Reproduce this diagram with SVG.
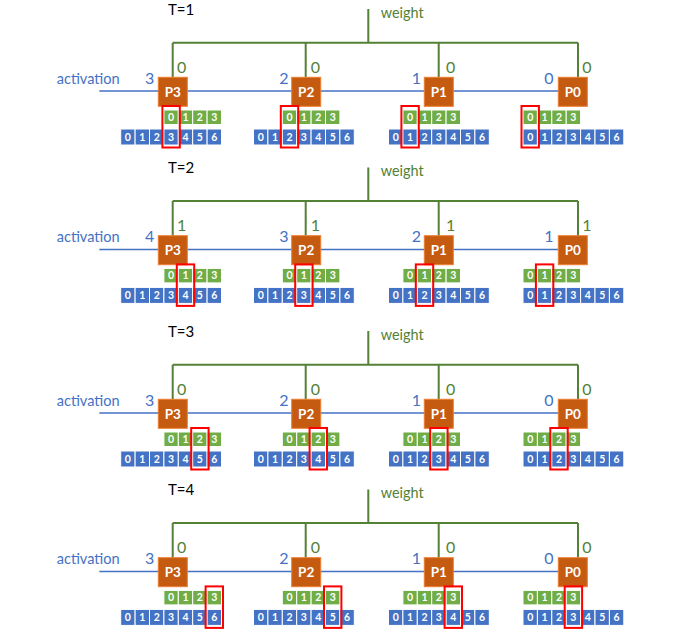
<svg xmlns="http://www.w3.org/2000/svg" xmlns:xlink="http://www.w3.org/1999/xlink" width="683" height="634" viewBox="0 0 683 634">
<style>
text{font-family:Lato,"Liberation Sans",sans-serif}
.tl{font-size:15px;fill:#000}
.act{font-size:16px;fill:#4472C4}
.wt{font-size:16px;fill:#538135}
.an{font-size:16px;fill:#4472C4}
.wn{font-size:16px;fill:#538135}
.gl{stroke:#538135;stroke-width:2;fill:none}
.bl{stroke:#4472C4;stroke-width:1.5;fill:none}
.box{fill:#C55A11;stroke:#ED7D31;stroke-width:1}
.pl{font-size:13.5px;font-weight:bold;fill:#fff;text-anchor:middle}
.gc{fill:#70AD47;stroke:#fff;stroke-width:1}
.bc{fill:#4472C4;stroke:#fff;stroke-width:1}
.cd{font-size:10.5px;font-weight:bold;fill:#fff;text-anchor:middle}
.red{fill:none;stroke:#F00;stroke-width:2}
</style>
<defs>
<g id="g4">
<rect class="gc" x="0" y="0" width="14.4" height="14.5"/><rect class="gc" x="14.4" y="0" width="14.4" height="14.5"/><rect class="gc" x="28.8" y="0" width="14.4" height="14.5"/><rect class="gc" x="43.2" y="0" width="14.4" height="14.5"/>
<text class="cd" x="7.2" y="11">0</text><text class="cd" x="21.6" y="11">1</text><text class="cd" x="36" y="11">2</text><text class="cd" x="50.4" y="11">3</text>
</g>
<g id="b7">
<rect class="bc" x="0" y="0" width="14.4" height="16"/><rect class="bc" x="14.4" y="0" width="14.4" height="16"/><rect class="bc" x="28.8" y="0" width="14.4" height="16"/><rect class="bc" x="43.2" y="0" width="14.4" height="16"/><rect class="bc" x="57.6" y="0" width="14.4" height="16"/><rect class="bc" x="72" y="0" width="14.4" height="16"/><rect class="bc" x="86.4" y="0" width="14.4" height="16"/>
<text class="cd" x="7.2" y="12">0</text><text class="cd" x="21.6" y="12">1</text><text class="cd" x="36" y="12">2</text><text class="cd" x="50.4" y="12">3</text><text class="cd" x="64.8" y="12">4</text><text class="cd" x="79.2" y="12">5</text><text class="cd" x="93.6" y="12">6</text>
</g>
</defs>

<!-- T=1 -->
<g id="sec1" transform="translate(0,0)">
<text class="tl" x="168" y="15">T=1</text>
<text class="wt" x="380.7" y="17.5" textLength="43" lengthAdjust="spacingAndGlyphs">weight</text>
<text class="act" x="56.7" y="83.5" textLength="63" lengthAdjust="spacingAndGlyphs">activation</text>
<g id="conn1">
<path class="gl" d="M368.3 9V42.7M172.7 42.7H578M172.7 42.7V77.3M305.7 42.7V77.3M438.7 42.7V77.3M578 42.7V77.3"/>
<path class="bl" d="M99.3 91H558.3"/>
</g>
<g id="t1-p3"><rect class="box" x="158.3" y="77.3" width="29" height="29"/><text class="pl" x="172.8" y="96.5">P3</text><text class="an" x="145" y="83.5">3</text><text class="wn" x="177" y="73">0</text><use xlink:href="#g4" x="163.9" y="110"/><use xlink:href="#b7" x="120.7" y="129"/><rect class="red" x="162.4" y="106" width="17.4" height="41.5"/></g>
<g id="t1-p2"><rect class="box" x="291.7" y="77.3" width="29" height="29"/><text class="pl" x="306.2" y="96.5">P2</text><text class="an" x="279.3" y="83.5">2</text><text class="wn" x="310.7" y="73">0</text><use xlink:href="#g4" x="282.3" y="110"/><use xlink:href="#b7" x="253.5" y="129"/><rect class="red" x="280.8" y="106" width="17.4" height="41.5"/></g>
<g id="t1-p1"><rect class="box" x="424.3" y="77.3" width="29" height="29"/><text class="pl" x="438.8" y="96.5">P1</text><text class="an" x="411.7" y="83.5">1</text><text class="wn" x="446" y="73">0</text><use xlink:href="#g4" x="402.9" y="110"/><use xlink:href="#b7" x="388.5" y="129"/><rect class="red" x="401.4" y="106" width="17.4" height="41.5"/></g>
<g id="t1-p0"><rect class="box" x="558.3" y="77.3" width="29" height="29"/><text class="pl" x="572.8" y="96.5">P0</text><text class="an" x="544.3" y="83.5">0</text><text class="wn" x="582.3" y="73">0</text><use xlink:href="#g4" x="523" y="110"/><use xlink:href="#b7" x="523" y="129"/><rect class="red" x="521.5" y="106" width="17.4" height="41.5"/></g>
</g>

<!-- T=2 -->
<g id="sec2" transform="translate(0,158.4)">
<text class="tl" x="168" y="15">T=2</text>
<text class="wt" x="380.7" y="17.5" textLength="43" lengthAdjust="spacingAndGlyphs">weight</text>
<text class="act" x="56.7" y="83.5" textLength="63" lengthAdjust="spacingAndGlyphs">activation</text>
<g id="conn2">
<path class="gl" d="M368.3 9V42.7M172.7 42.7H578M172.7 42.7V77.3M305.7 42.7V77.3M438.7 42.7V77.3M578 42.7V77.3"/>
<path class="bl" d="M99.3 91H558.3"/>
</g>
<g id="t2-p3"><rect class="box" x="158.3" y="77.3" width="29" height="29"/><text class="pl" x="172.8" y="96.5">P3</text><text class="an" x="145" y="83.5">4</text><text class="wn" x="177" y="73">1</text><use xlink:href="#g4" x="163.9" y="110"/><use xlink:href="#b7" x="120.7" y="129"/><rect class="red" x="176.8" y="106" width="17.4" height="41.5"/></g>
<g id="t2-p2"><rect class="box" x="291.7" y="77.3" width="29" height="29"/><text class="pl" x="306.2" y="96.5">P2</text><text class="an" x="279.3" y="83.5">3</text><text class="wn" x="310.7" y="73">1</text><use xlink:href="#g4" x="282.3" y="110"/><use xlink:href="#b7" x="253.5" y="129"/><rect class="red" x="295.2" y="106" width="17.4" height="41.5"/></g>
<g id="t2-p1"><rect class="box" x="424.3" y="77.3" width="29" height="29"/><text class="pl" x="438.8" y="96.5">P1</text><text class="an" x="411.7" y="83.5">2</text><text class="wn" x="446" y="73">1</text><use xlink:href="#g4" x="402.9" y="110"/><use xlink:href="#b7" x="388.5" y="129"/><rect class="red" x="415.8" y="106" width="17.4" height="41.5"/></g>
<g id="t2-p0"><rect class="box" x="558.3" y="77.3" width="29" height="29"/><text class="pl" x="572.8" y="96.5">P0</text><text class="an" x="544.3" y="83.5">1</text><text class="wn" x="582.3" y="73">1</text><use xlink:href="#g4" x="523" y="110"/><use xlink:href="#b7" x="523" y="129"/><rect class="red" x="535.9" y="106" width="17.4" height="41.5"/></g>
</g>

<!-- T=3 -->
<g id="sec3" transform="translate(0,322)">
<text class="tl" x="168" y="15">T=3</text>
<text class="wt" x="380.7" y="17.5" textLength="43" lengthAdjust="spacingAndGlyphs">weight</text>
<text class="act" x="56.7" y="83.5" textLength="63" lengthAdjust="spacingAndGlyphs">activation</text>
<g id="conn3">
<path class="gl" d="M368.3 9V42.7M172.7 42.7H578M172.7 42.7V77.3M305.7 42.7V77.3M438.7 42.7V77.3M578 42.7V77.3"/>
<path class="bl" d="M99.3 91H558.3"/>
</g>
<g id="t3-p3"><rect class="box" x="158.3" y="77.3" width="29" height="29"/><text class="pl" x="172.8" y="96.5">P3</text><text class="an" x="145" y="83.5">3</text><text class="wn" x="177" y="73">0</text><use xlink:href="#g4" x="163.9" y="110"/><use xlink:href="#b7" x="120.7" y="129"/><rect class="red" x="191.2" y="106" width="17.4" height="41.5"/></g>
<g id="t3-p2"><rect class="box" x="291.7" y="77.3" width="29" height="29"/><text class="pl" x="306.2" y="96.5">P2</text><text class="an" x="279.3" y="83.5">2</text><text class="wn" x="310.7" y="73">0</text><use xlink:href="#g4" x="282.3" y="110"/><use xlink:href="#b7" x="253.5" y="129"/><rect class="red" x="309.6" y="106" width="17.4" height="41.5"/></g>
<g id="t3-p1"><rect class="box" x="424.3" y="77.3" width="29" height="29"/><text class="pl" x="438.8" y="96.5">P1</text><text class="an" x="411.7" y="83.5">1</text><text class="wn" x="446" y="73">0</text><use xlink:href="#g4" x="402.9" y="110"/><use xlink:href="#b7" x="388.5" y="129"/><rect class="red" x="430.2" y="106" width="17.4" height="41.5"/></g>
<g id="t3-p0"><rect class="box" x="558.3" y="77.3" width="29" height="29"/><text class="pl" x="572.8" y="96.5">P0</text><text class="an" x="544.3" y="83.5">0</text><text class="wn" x="582.3" y="73">0</text><use xlink:href="#g4" x="523" y="110"/><use xlink:href="#b7" x="523" y="129"/><rect class="red" x="550.3" y="106" width="17.4" height="41.5"/></g>
</g>

<!-- T=4 -->
<g id="sec4" transform="translate(0,480.4)">
<text class="tl" x="168" y="15">T=4</text>
<text class="wt" x="380.7" y="17.5" textLength="43" lengthAdjust="spacingAndGlyphs">weight</text>
<text class="act" x="56.7" y="83.5" textLength="63" lengthAdjust="spacingAndGlyphs">activation</text>
<g id="conn4">
<path class="gl" d="M368.3 9V42.7M172.7 42.7H578M172.7 42.7V77.3M305.7 42.7V77.3M438.7 42.7V77.3M578 42.7V77.3"/>
<path class="bl" d="M99.3 91H558.3"/>
</g>
<g id="t4-p3"><rect class="box" x="158.3" y="77.3" width="29" height="29"/><text class="pl" x="172.8" y="96.5">P3</text><text class="an" x="145" y="83.5">3</text><text class="wn" x="177" y="73">0</text><use xlink:href="#g4" x="163.9" y="110"/><use xlink:href="#b7" x="120.7" y="129"/><rect class="red" x="205.6" y="106" width="17.4" height="41.5"/></g>
<g id="t4-p2"><rect class="box" x="291.7" y="77.3" width="29" height="29"/><text class="pl" x="306.2" y="96.5">P2</text><text class="an" x="279.3" y="83.5">2</text><text class="wn" x="310.7" y="73">0</text><use xlink:href="#g4" x="282.3" y="110"/><use xlink:href="#b7" x="253.5" y="129"/><rect class="red" x="324" y="106" width="17.4" height="41.5"/></g>
<g id="t4-p1"><rect class="box" x="424.3" y="77.3" width="29" height="29"/><text class="pl" x="438.8" y="96.5">P1</text><text class="an" x="411.7" y="83.5">1</text><text class="wn" x="446" y="73">0</text><use xlink:href="#g4" x="402.9" y="110"/><use xlink:href="#b7" x="388.5" y="129"/><rect class="red" x="444.6" y="106" width="17.4" height="41.5"/></g>
<g id="t4-p0"><rect class="box" x="558.3" y="77.3" width="29" height="29"/><text class="pl" x="572.8" y="96.5">P0</text><text class="an" x="544.3" y="83.5">0</text><text class="wn" x="582.3" y="73">0</text><use xlink:href="#g4" x="523" y="110"/><use xlink:href="#b7" x="523" y="129"/><rect class="red" x="564.7" y="106" width="17.4" height="41.5"/></g>
</g>
</svg>
